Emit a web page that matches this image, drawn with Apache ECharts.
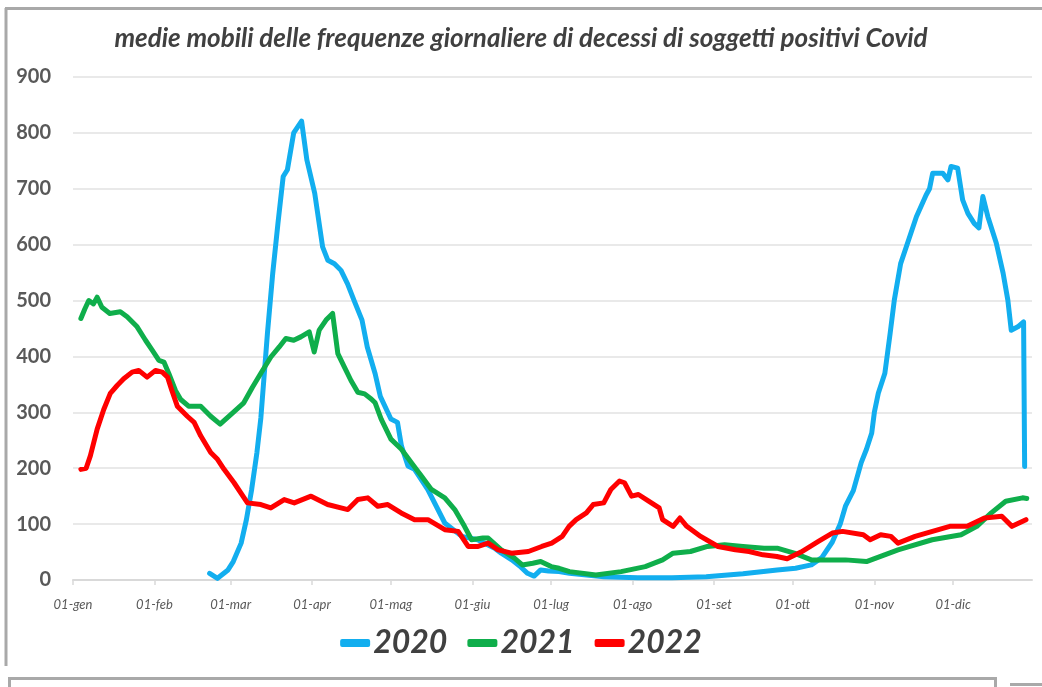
<!DOCTYPE html>
<html>
<head>
<meta charset="utf-8">
<script src="https://cdn.jsdelivr.net/npm/echarts@6/dist/echarts.min.js"></script>
<style>
html,body{margin:0;padding:0;background:#fff;}
#chart{width:1042px;height:687px;}
</style>
</head>
<body>
<div id="chart"></div>
<script>
// ---- data (x = day of year, 0 = 1 January) ----
const monthDays = [0, 31, 60, 91, 121, 152, 182, 213, 244, 274, 305, 335];
const monthLabels = ['01-gen','01-feb','01-mar','01-apr','01-mag','01-giu','01-lug','01-ago','01-set','01-ott','01-nov','01-dic'];
const yTicks = [0,100,200,300,400,500,600,700,800,900];

const s2020 = [[52,12],[55,3],[59,18],[61,33],[64,66],[66,108],[68,162],[70,228],[71.5,290],[74,441],[76,548],[78,638],[80,722],[81.6,734],[84,800],[87,821],[89,752],[92,692],[95,596],[97,572],[99.5,566],[102,554],[104.5,530],[107,500],[110,465],[112,417],[115,369],[117,328],[121,288],[123.5,282],[125,240],[127.5,204],[130,198],[135,162],[141.5,102],[148,78],[154,72],[160.5,57],[163,48],[167,36],[170,25],[173,12],[175.5,7],[178,18],[181,16],[185,15],[189,12],[202,6],[215,4],[228,4],[241,6],[255,11],[268,18],[275,21],[281,27],[285,40],[289,68],[292,100],[294,132],[297,160],[300,210],[302,234],[304,263],[305,300],[306.5,334],[309,370],[311,441],[312.6,501],[315,566],[318,608],[321,650],[324.7,689],[326,700],[327.2,728],[331,728],[333,716],[334.2,740],[336.7,737],[338.6,680],[340.6,656],[343,638],[344.8,630],[346.3,686],[348.2,650],[351.4,603],[354,549],[355.8,501],[357.1,447],[359.6,453],[361.8,462],[362.2,203]];

const s2021 = [[3,468],[4.5,485],[6,500],[7.8,494],[9.2,506],[11,488],[14,477],[18,480],[20.6,471],[24.4,453],[27.6,429],[30.2,411],[32.7,393],[34.6,390],[36.5,369],[39,339],[41,323],[44,311],[48.6,311],[52.4,293],[56,279],[61,300],[65,317],[68.3,345],[71.5,370],[75.3,399],[78.5,417],[81,432],[84,429],[86.7,435],[89.9,444],[91.8,408],[93.7,447],[96.3,465],[98.8,477],[100.8,405],[103.3,381],[105.8,357],[108.4,336],[111,333],[113.5,324],[115,317],[117.3,288],[121,252],[125,234],[128.8,210],[132.6,186],[136.4,162],[141.5,147],[145.3,126],[149,96],[151.7,72],[156,75],[158,75],[163,54],[168,39],[171,27],[175,30],[178,33],[182,24],[185,21],[189,15],[199,9],[208.6,15],[217.8,24],[224.4,36],[228.4,48],[235,51],[241.5,60],[248,63],[255,60],[263,57],[268,57],[274.5,48],[281,36],[294,36],[302,33],[314,54],[327,72],[338,81],[344,96],[349.5,120],[355,141],[361.4,147],[363,146]];

const s2022 = [[3,198],[5,200],[6.6,222],[9.2,270],[11.7,305],[14.2,334],[16.8,348],[19.3,360],[22.5,372],[25,375],[28.2,363],[31.4,375],[34,372],[36,363],[37.5,341],[39.7,311],[43.5,293],[46.1,282],[48.6,258],[52.4,228],[55,216],[57.5,198],[61.3,174],[66.4,138],[71.5,135],[75.3,129],[80.4,144],[84.2,138],[90.6,150],[96.9,135],[104.6,126],[108.4,144],[112.2,147],[116,132],[119.8,135],[124.9,120],[130,108],[135.1,108],[141.5,90],[146.6,87],[150.4,60],[154.2,60],[158,66],[161.8,54],[166.9,48],[173.3,51],[178.4,60],[182.2,66],[186.2,78],[188.8,96],[191.5,108],[195.4,120],[198,135],[202,138],[204.7,162],[208,177],[209.9,174],[212.6,150],[215.2,153],[219.1,141],[223.1,129],[224.4,108],[228.4,96],[231,111],[233.6,96],[238.9,78],[245.5,60],[252.1,54],[257.3,51],[262.6,45],[267.9,42],[271.8,38],[277.1,50],[283.7,69],[289,84],[292.9,87],[300.8,81],[303.4,72],[307.4,81],[311.3,78],[314,66],[320.5,78],[327.1,87],[333.7,96],[340.3,96],[346.9,111],[353.5,114],[357.4,96],[362.7,108]];

const seriesNames = ['2020','2021','2022'];
const seriesColors = ['#12aeef','#0fae4b','#ff0000'];
const titleText = 'medie mobili delle frequenze giornaliere di decessi di soggetti positivi Covid';

const FONT = 'Lato';
const chart = echarts.init(document.getElementById('chart'), null, {renderer:'canvas'});
const allData = [s2020, s2021, s2022];

chart.setOption({
  backgroundColor: '#ffffff',
  animation: false,
  title: {
    text: titleText,
    left: 'center',
    top: 21,
    textStyle: {fontFamily: FONT, fontSize: 26, fontWeight: 'bold', fontStyle: 'italic', color: '#404040'}
  },
  legend: {
    data: seriesNames,
    bottom: 23,
    left: 'center',
    icon: 'roundRect',
    itemWidth: 30,
    itemHeight: 8,
    itemGap: 20,
    textStyle: {fontFamily: FONT, fontSize: 32, fontWeight: 'bold', fontStyle: 'italic', color: '#404040', padding: [0,0,0,-2]}
  },
  grid: {left: 73, right: 10, top: 77, bottom: 107, containLabel: false},
  xAxis: {
    type: 'value',
    min: 0,
    max: 365,
    splitLine: {show: false},
    axisLine: {show: true, lineStyle: {color: '#d9d9d9', width: 2}},
    axisTick: {show: true, customValues: monthDays, length: 5, lineStyle: {color: '#d9d9d9', width: 1.5}},
    axisLabel: {
      customValues: monthDays,
      margin: 18,
      fontFamily: FONT, fontSize: 13, fontStyle: 'italic', color: '#595959',
      formatter: function (v) { const i = monthDays.indexOf(Math.round(v)); return i >= 0 ? monthLabels[i] : ''; }
    }
  },
  yAxis: {
    type: 'value',
    min: 0,
    max: 900,
    interval: 100,
    axisLine: {show: false},
    axisTick: {show: false},
    splitLine: {show: true, lineStyle: {color: '#e9e9e9', width: 2}},
    axisLabel: {margin: 22, fontFamily: FONT, fontSize: 20, fontWeight: 'bold', color: '#595959',
      formatter: function (v) { return yTicks.indexOf(v) >= 0 ? String(v) : ''; }}
  },
  series: seriesNames.map(function (n, i) {
    return {
      name: n, type: 'line', data: allData[i], showSymbol: false, symbol: 'none',
      lineStyle: {width: 5, color: seriesColors[i], cap: 'round', join: 'round'},
      itemStyle: {color: seriesColors[i]},
      z: 2 + i
    };
  }),
  graphic: [
    {type: 'line', shape: {x1: 5, y1: 8.5, x2: 1042, y2: 8.5}, style: {stroke: '#a9a9a9', lineWidth: 3}},
    {type: 'line', shape: {x1: 6, y1: 8, x2: 6, y2: 666}, style: {stroke: '#a9a9a9', lineWidth: 3}},
    {type: 'polyline', shape: {points: [[9.5,687],[9.5,678.5],[995.5,678.5],[995.5,687]]}, style: {stroke: '#a9a9a9', lineWidth: 3, fill: null}},
    {type: 'line', shape: {x1: 1010, y1: 684.5, x2: 1042, y2: 684.5}, style: {stroke: '#a9a9a9', lineWidth: 3}}
  ]
});
</script>
</body>
</html>
